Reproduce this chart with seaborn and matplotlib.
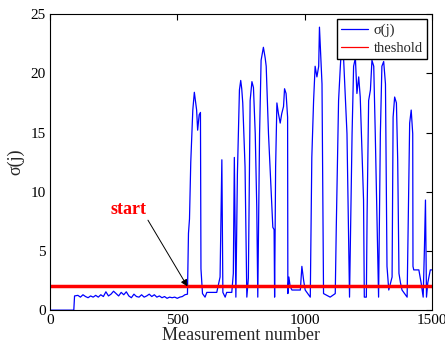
import matplotlib
matplotlib.use("Agg")
import matplotlib.pyplot as plt
import seaborn as sns
import pandas as pd

measurement = [0, 94, 97, 110, 120, 130, 140, 150, 160, 170, 180, 190, 200, 210, 220, 230, 240,
               250, 260, 270, 280, 290, 300, 310, 320, 330, 340, 350, 360, 370, 380, 390, 400,
               410, 420, 430, 440, 450, 460, 470, 480, 490, 500, 510, 520, 530, 540,
               544, 548, 553, 561, 567, 576, 580, 586, 591, 593, 599, 609, 616, 655, 668, 675,
               679, 688, 694, 714, 720, 724, 730, 736, 744, 749, 753, 757, 766, 773, 779, 786,
               793, 799, 806, 812, 816, 823, 829, 838, 845, 849, 858, 867, 875, 880, 882, 886,
               891, 897, 904, 910, 917, 921, 927, 933, 934, 938, 943, 950, 983, 989, 996, 1002,
               1022, 1028, 1035, 1041, 1048, 1055, 1058, 1068, 1074, 1100, 1120, 1124, 1133, 1140,
               1146, 1153, 1166, 1176, 1186, 1192, 1199, 1205, 1212, 1218, 1231, 1234, 1242, 1245,
               1251, 1258, 1264, 1271, 1277, 1290, 1297, 1303, 1310, 1317, 1323, 1330, 1343, 1347,
               1353, 1360, 1365, 1370, 1376, 1382, 1402, 1412, 1418, 1424, 1425, 1428, 1448, 1457,
               1465, 1470, 1474, 1478, 1483, 1493, 1500]
sigma = [0, 0, 1.2, 1.25, 1.1, 1.3, 1.15, 1.05, 1.2, 1.1, 1.25, 1.1, 1.3, 1.15, 1.55, 1.2, 1.35,
         1.6, 1.4, 1.2, 1.5, 1.3, 1.55, 1.2, 1.05, 1.35, 1.15, 1.1, 1.3, 1.1, 1.2, 1.35, 1.15,
         1.3, 1.1, 1.2, 1.05, 1.15, 1.0, 1.1, 1.05, 1.1, 1.0, 1.1, 1.15, 1.3, 1.35,
         6.5, 7.7, 12.5, 16.9, 18.4, 16.9, 15.2, 16.5, 16.7, 3.5, 1.4, 1.1, 1.5, 1.5, 2.8, 12.7,
         1.5, 1.1, 1.5, 1.5, 3.1, 12.9, 1.1, 11.5, 18.6, 19.4, 18.7, 17.5, 12.1, 1.1, 2.7, 17.7,
         19.3, 18.8, 14.9, 8.7, 1.1, 14.9, 21.1, 22.2, 21.3, 20.6, 14.9, 10.7, 7.0, 6.8, 1.1, 12.1,
         17.5, 16.6, 15.8, 16.6, 17.2, 18.7, 18.3, 16.3, 1.4, 2.8, 2.0, 1.7, 1.7, 3.7, 2.5, 1.7,
         1.1, 12.9, 17.7, 20.6, 19.7, 20.6, 23.9, 19.1, 1.4, 1.1, 1.4, 7.0, 17.7, 20.6,
         22.8, 21.1, 14.9, 1.1, 14.9, 20.6, 21.3, 18.3, 19.7, 18.0, 9.3, 1.1, 1.1, 8.2,
         17.7, 18.6, 21.1, 20.6, 14.9, 1.1, 14.9, 20.6, 21.0, 19.1, 3.7, 1.7, 2.8, 16.3,
         18.0, 17.5, 12.7, 3.1, 2.3, 1.7, 1.1, 15.8, 16.9, 14.9, 3.7, 3.4, 3.4, 2.3,
         1.1, 5.3, 9.3, 1.1, 2.3, 3.4, 3.4]
threshold_x = [0, 1500]
threshold_y = [2.0, 2.0]
x_ticks = [0, 500, 1000, 1500]
y_ticks = [0, 5, 10, 15, 20, 25]

sns.set_style("white")
plt.rcParams['font.family'] = ['Liberation Serif', 'DejaVu Serif']

fig = plt.figure(figsize=(4.45, 3.45), dpi=100)
ax = fig.add_axes([0.112, 0.101, 0.859, 0.858])

df = pd.DataFrame({"x": measurement, "y": sigma})
sns.lineplot(data=df, x="x", y="y", ax=ax, color="#0000ff", lw=0.9, sort=False,
             estimator=None, label="σ(j)")
tdf = pd.DataFrame({"x": threshold_x, "y": threshold_y})
sns.lineplot(data=tdf, x="x", y="y", ax=ax, color="#ff0000", lw=2.5, label="theshold")

ax.set_xlim(0, 1500)
ax.set_ylim(0, 25)
ax.set_xticks(x_ticks)
ax.set_yticks(y_ticks)
ax.tick_params(direction="in", top=True, right=True, length=4, width=0.8,
               labelsize=11, colors="black", pad=3)
for s in ax.spines.values():
    s.set_visible(True)
    s.set_color("black")
    s.set_linewidth(0.8)
ax.set_xlabel("Measurement number", fontsize=13, labelpad=0)
ax.set_ylabel("σ(j)", fontsize=13, labelpad=4)

leg = ax.legend(loc="upper right", fontsize=10.5, frameon=True, fancybox=False,
                framealpha=1, edgecolor="black", borderpad=0.3, handlelength=1.8,
                handletextpad=0.4, labelspacing=0.3, borderaxespad=0.35)
leg.get_frame().set_linewidth(1.0)
for line in leg.get_lines():
    line.set_linewidth(0.9)

ax.text(310, 8.5, "start", fontsize=13, fontweight="bold", color="#ff0000",
        ha="center", va="center")
ax.annotate("", xy=(540, 2.0), xytext=(385, 7.6),
            arrowprops=dict(arrowstyle="-|>", color="black", lw=0.7,
                            shrinkA=0, shrinkB=0, mutation_scale=10))

fig.savefig("out.png", dpi=100)
